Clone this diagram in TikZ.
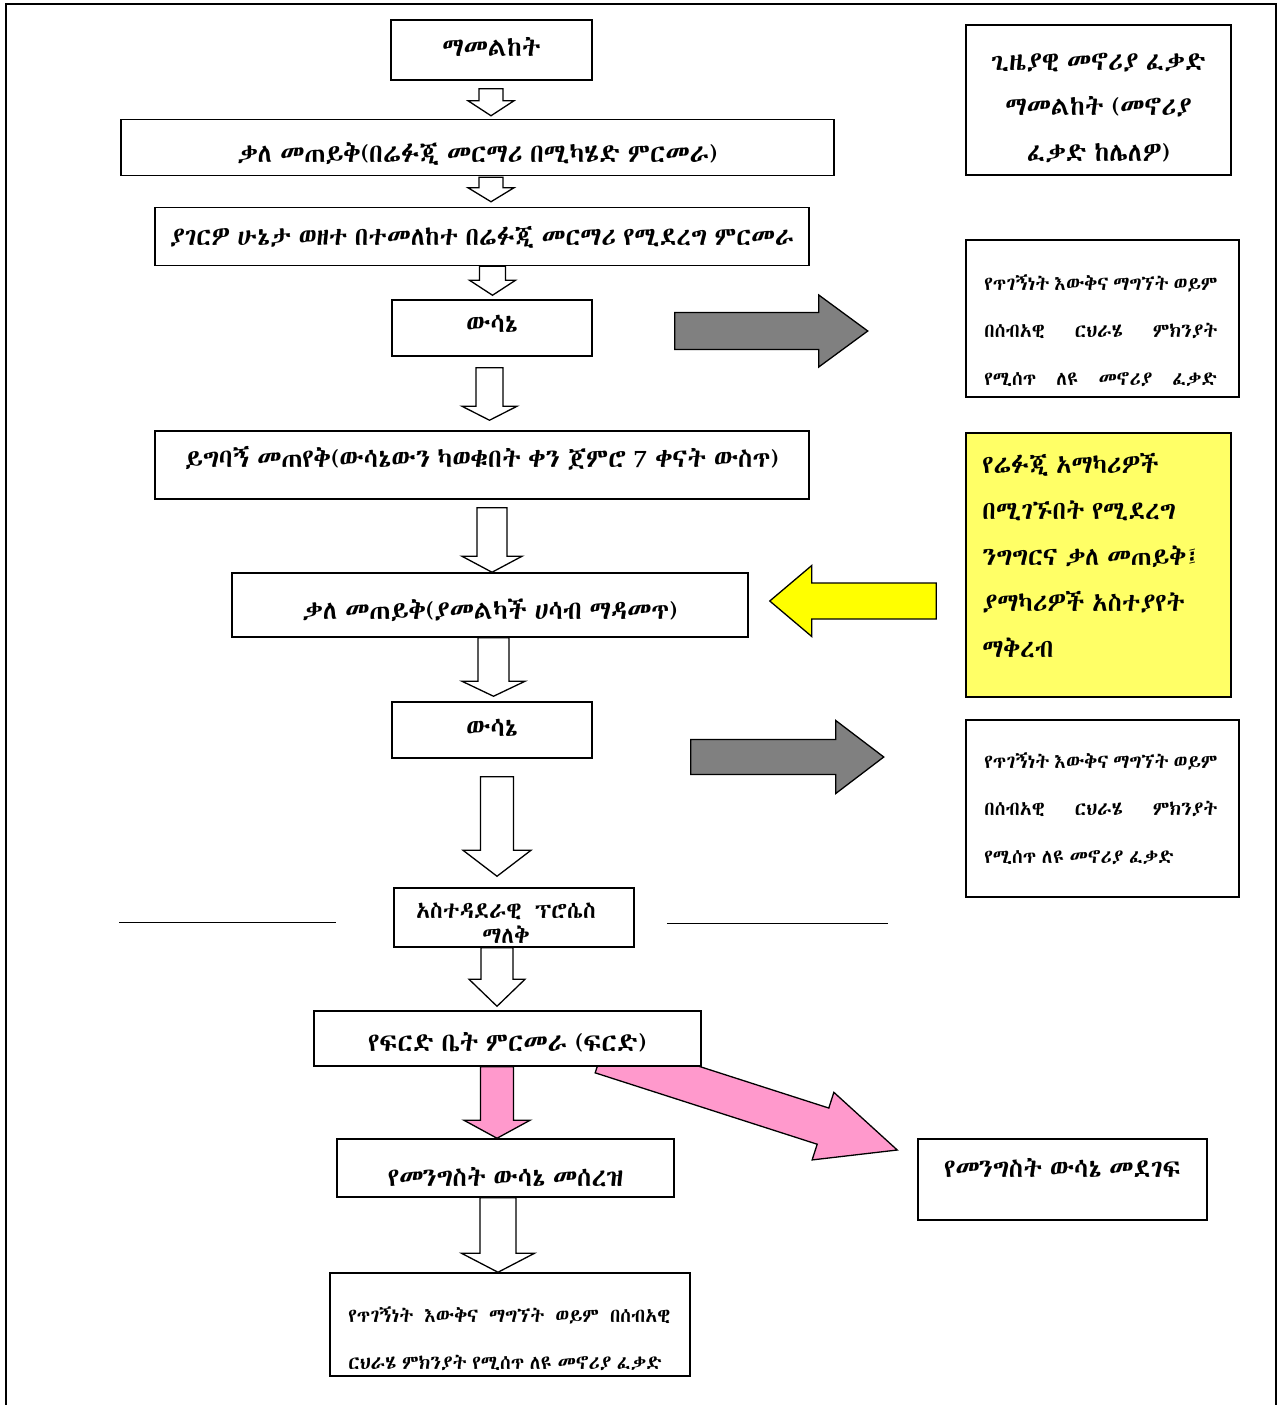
\documentclass[tikz,border=0pt]{standalone}
\usepackage{fontspec}
\usepackage{tikz}
\usetikzlibrary{calc,backgrounds}

\IfFontExistsTF{Abyssinica SIL}{\newfontfamily\amh[WordSpace=0.65]{Abyssinica SIL}}{%
  \IfFontExistsTF{FreeSerif.otf}{\newfontfamily\amh[WordSpace=0.65]{FreeSerif.otf}}{%
    \newfontfamily\amh{DejaVu Sans}}}

\definecolor{boxyellow}{HTML}{FFFF66}
\definecolor{arrowyellow}{HTML}{FFFF00}
\definecolor{arrowpink}{HTML}{FF99CC}
\definecolor{arrowgray}{HTML}{808080}

\newcommand{\mainsize}{\fontsize{26}{29}\selectfont}
\newcommand{\rightsize}{\fontsize{26}{45.5}\selectfont}
\newcommand{\yellowsize}{\fontsize{25.5}{46}\selectfont}
\newcommand{\smallsize}{\fontsize{19.5}{47.5}\selectfont}

% block arrow: [style]{tail}{tip}{shaft half width}{head half width}{head length}
\newcommand{\fatarrow}[6][hollow]{%
  \coordinate (fa s) at (#2);
  \coordinate (fa t) at (#3);
  \coordinate (fa b) at ($(fa t)!#6!(fa s)$);
  \draw[#1] ($(fa s)!#4!90:(fa t)$) -- ($(fa b)!#4!90:(fa t)$) -- ($(fa b)!#5!90:(fa t)$)
    -- (fa t) -- ($(fa b)!#5!-90:(fa t)$) -- ($(fa b)!#4!-90:(fa t)$) -- ($(fa s)!#4!-90:(fa t)$) -- cycle;}

\tikzset{
  box/.style={draw, line width=1.5pt, fill=white, inner sep=0pt, font=\amh\mainsize,
    text height=20pt, text depth=0pt},
  txt/.style={inner sep=0pt, font=\amh\mainsize},
  hollow/.style={draw, line width=1.3pt, fill=white, line join=miter},
  grayarrow/.style={hollow, fill=arrowgray},
  yellowarrow/.style={hollow, fill=arrowyellow},
  pinkarrow/.style={hollow, fill=arrowpink}
}

\begin{document}
\begin{tikzpicture}[x=1pt, y=-1pt]
  \useasboundingbox (0,0) rectangle (1283,1405);
  % Frame
  \draw[line width=2pt] (6,1405) -- (6,4) -- (1276,4) -- (1276,1405);

  % Nodes (main column)
  \node[box, minimum width=201pt, minimum height=60pt] (b1) at (491.5,50) {\raisebox{4pt}{ማመልከት}};
  \node[box, minimum width=713pt, minimum height=56pt] (b2) at (477.5,147.5) {\raisebox{-4.5pt}{ቃለ መጠይቅ(በሬፉጂ መርማሪ በሚካሄድ ምርመራ)}};
  \node[box, minimum width=654pt, minimum height=58pt] (b3) at (482,236.5) {\raisebox{1pt}{\fontsize{25.5}{29}\selectfont ያገርዎ ሁኔታ ወዘተ በተመለከተ በሬፉጂ መርማሪ የሚደረግ ምርመራ}};
  \node[box, minimum width=200pt, minimum height=56pt] (b4) at (492,328) {\raisebox{6pt}{ውሳኔ}};
  \node[box, minimum width=654pt, minimum height=68pt] (b5) at (482,465) {\raisebox{7.5pt}{ይግባኝ መጠየቅ(ውሳኔውን ካወቁበት ቀን ጀምሮ 7 ቀናት ውስጥ)}};
  \node[box, minimum width=516pt, minimum height=64pt] (b6) at (490,605) {\raisebox{-4pt}{ቃለ መጠይቅ(ያመልካች ሀሳብ ማዳመጥ)}};
  \node[box, minimum width=200pt, minimum height=56pt] (b7) at (492,730) {\raisebox{4pt}{ውሳኔ}};
  \node[box, minimum width=240pt, minimum height=59pt] (b8) at (514,917.5) {};
  \node[txt, align=center, font=\amh\fontsize{23}{25}\selectfont] (b8t) at ($(b8)+(-8,6)$) {አስተዳደራዊ~~ፕሮሴስ\\ማለቅ};
  \node[box, minimum width=387pt, minimum height=55pt] (b9) at (507.5,1038.5) {\raisebox{-3pt}{የፍርድ ቤት ምርመራ (ፍርድ)}};
  \node[box, minimum width=337pt, minimum height=58pt] (b10) at (505.5,1168) {\raisebox{-8pt}{የመንግስት ውሳኔ መሰረዝ}};
  \node[box, minimum width=360pt, minimum height=103pt] (b11) at (510,1324.5) {};
  \node[txt, anchor=west, align=left, font=\amh\smallsize] (b11t) at ($(b11.west)+(19,14)$)
    {\makebox[322pt][s]{የጥገኝነት እውቅና ማግኘት ወይም በሰብአዊ}\\ርህራሄ ምክንያት የሚሰጥ ለዩ መኖሪያ ፈቃድ};

  % Nodes (right column)
  \node[box, minimum width=265pt, minimum height=150pt] (r1) at (1098.5,100) {};
  \node[txt, align=center, font=\amh\rightsize] (r1t) at ($(r1)+(0,7.5)$) {ጊዜያዊ መኖሪያ ፈቃድ\\ማመልከት (መኖሪያ\\ፈቃድ ከሌለዎ)};
  \node[box, minimum width=273pt, minimum height=157pt] (r2) at (1102.5,318.5) {};
  \node[txt, anchor=west, align=left, font=\amh\smallsize] (r2t) at ($(r2.west)+(19,12)$)
    {\makebox[233pt][s]{የጥገኝነት እውቅና ማግኘት ወይም}\\\makebox[233pt][s]{በሰብአዊ ርህራሄ ምክንያት}\\\makebox[233pt][s]{የሚሰጥ ለዩ መኖሪያ ፈቃድ}};
  \node[box, fill=boxyellow, minimum width=265pt, minimum height=264pt] (ry) at (1098.5,565) {};
  \node[txt, anchor=west, align=left, font=\amh\yellowsize] (ryt) at ($(ry.west)+(17,-9.5)$)
    {የሬፉጂ አማካሪዎች\\በሚገኙበት የሚደረግ\\ንግግርና ቃለ መጠይቅ፤\\ያማካሪዎች አስተያየት\\ማቅረብ};
  \node[box, minimum width=273pt, minimum height=177pt] (r3) at (1102.5,808.5) {};
  \node[txt, anchor=west, align=left, font=\amh\smallsize] (r3t) at ($(r3.west)+(19,0)$)
    {\makebox[233pt][s]{የጥገኝነት እውቅና ማግኘት ወይም}\\\makebox[233pt][s]{በሰብአዊ ርህራሄ ምክንያት}\\የሚሰጥ ለዩ መኖሪያ ፈቃድ};
  \node[box, minimum width=289pt, minimum height=81pt] (r4) at (1062.5,1179.5) {\raisebox{12.5pt}{የመንግስት ውሳኔ መደገፍ}};

  % Side lines
  \coordinate (hl1) at ($(b8.west)+(-274,4.5)$);
  \coordinate (hl2) at ($(b8.west)+(-57,4.5)$);
  \coordinate (hl3) at ($(b8.east)+(32,5.5)$);
  \coordinate (hl4) at ($(b8.east)+(253,5.5)$);
  \draw[line width=1pt] (hl1) -- (hl2);
  \draw[line width=1pt] (hl3) -- (hl4);

  % Arrows
  \fatarrow{$(b1.south)+(-0.5,8)$}{$(b1.south |- b2.north)+(-0.5,-3)$}{12pt}{23pt}{15pt}
  \fatarrow{$(b1.south |- b2.south)+(-0.5,1)$}{$(b1.south |- b3.north)+(-0.5,-5)$}{12pt}{23pt}{14pt}
  \fatarrow{$(b4.north |- b3.south)+(0.5,0)$}{$(b4.north)+(0.5,-4)$}{13pt}{23pt}{15pt}
  \fatarrow{$(b4.south)+(-2.5,11)$}{$(b4.south |- b5.north)+(-2.5,-10)$}{13.5pt}{27.5pt}{14pt}
  \fatarrow{$(b5.south)+(10,8)$}{$(b6.north)+(2,0)$}{15pt}{30pt}{16pt}
  \fatarrow{$(b6.south)+(3.5,0)$}{$(b7.north)+(1.5,-5)$}{15.5pt}{31.5pt}{15pt}
  \fatarrow{$(b7.south)+(5,18)$}{$(b7.south |- b8.north)+(5,-11)$}{16.5pt}{34pt}{26pt}
  \fatarrow{$(b8.south)+(-17,0)$}{$(b8.south |- b9.north)+(-17,-4)$}{16pt}{28pt}{27pt}
  \fatarrow[pinkarrow]{$(b9.south)+(-10.5,0)$}{$(b10.north)+(-8.5,0)$}{16.5pt}{33pt}{18pt}
  \fatarrow{$(b10.south)+(-7.5,0)$}{$(b11.north)+(-12,0)$}{18pt}{36.5pt}{19pt}

  \coordinate (g1s) at ($(b4.east)+(82,3)$);
  \coordinate (g1t) at ($(g1s)+(193,0)$);
  \fatarrow[grayarrow]{g1s}{g1t}{18.5pt}{36pt}{49pt}
  \coordinate (ys) at ($(ry.west)+(-29,36)$);
  \coordinate (yt) at ($(b6.east)+(21,-4)$);
  \fatarrow[yellowarrow]{ys}{yt}{18pt}{35.5pt}{42pt}
  \coordinate (g2s) at ($(b7.east)+(98,27)$);
  \coordinate (g2t) at ($(g2s)+(193,0)$);
  \fatarrow[grayarrow]{g2s}{g2t}{17.5pt}{36.5pt}{48pt}

  \begin{scope}[on background layer]
    \coordinate (p2s) at ($(b9.south)+(93.5,-12)$);
    \coordinate (p2t) at ($(r4.west)+(-20,-29.5)$);
    \fatarrow[pinkarrow]{p2s}{p2t}{19pt}{35.5pt}{78pt}
  \end{scope}
\end{tikzpicture}
\end{document}
